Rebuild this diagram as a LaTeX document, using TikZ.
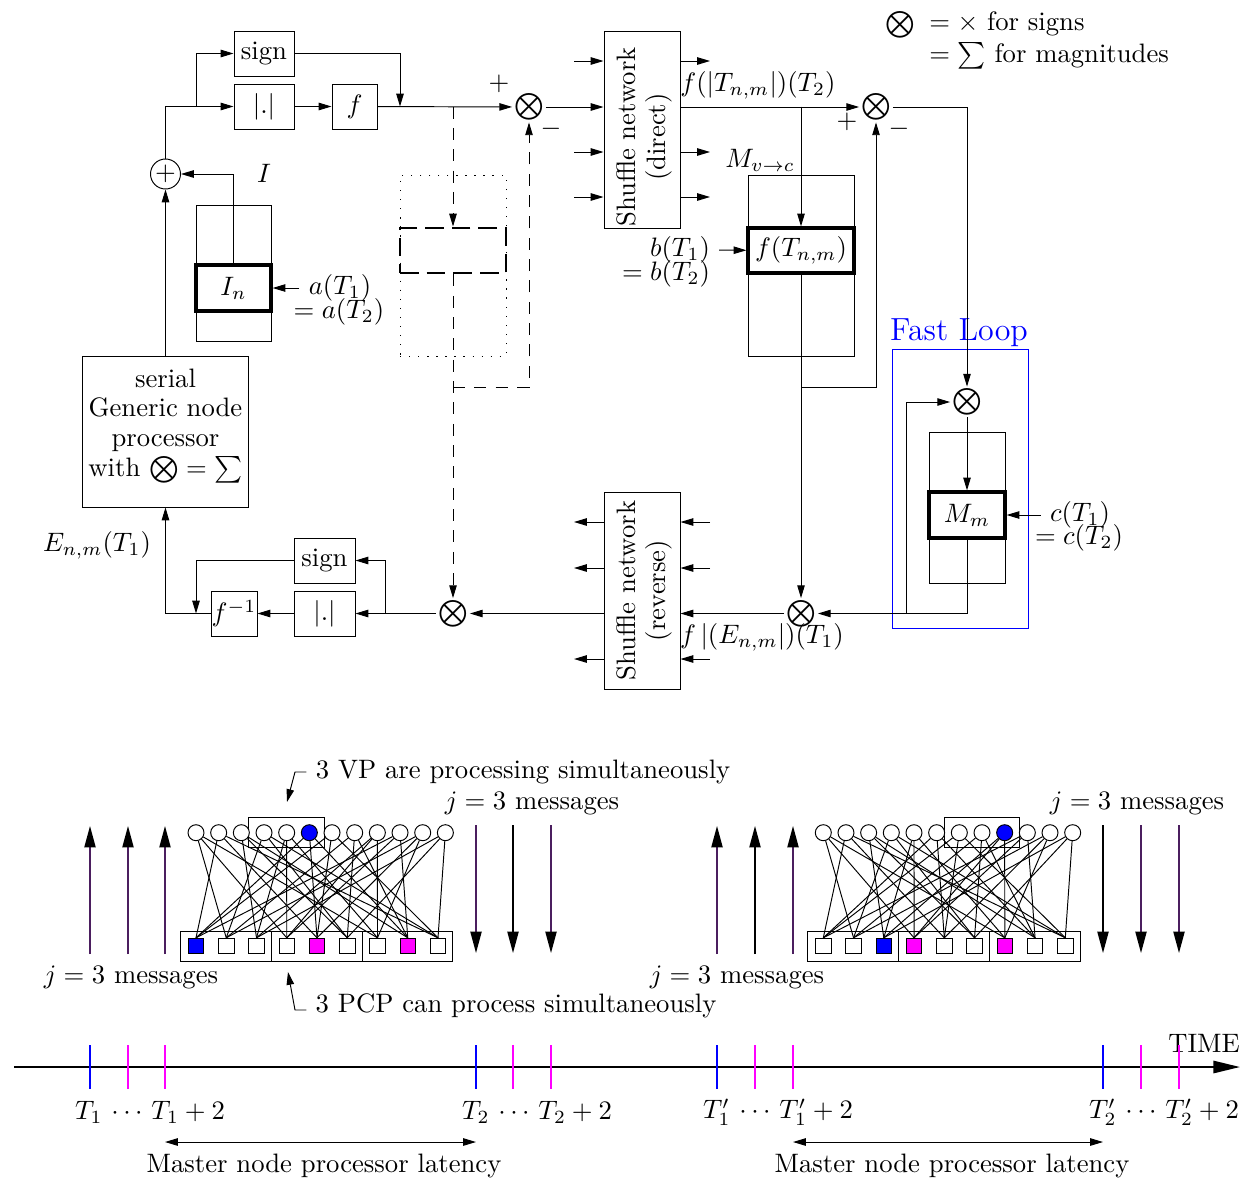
\documentclass[tikz,border=0pt]{standalone}
\usetikzlibrary{arrows.meta,calc}
\usepackage{amsmath}
\definecolor{arrowpurple}{RGB}{75,30,95}
\definecolor{fullmagenta}{RGB}{255,0,255}
\tikzset{
    wh/.style 2 args={minimum width=#1*0.375pt, minimum height=#2*0.375pt, inner sep=0pt},
    arr/.style={-{Triangle[length=4.8pt,width=2.8pt]}},
    bigarr/.style={line width=0.5pt, -{Triangle[length=8pt,width=4.2pt,black]}},
    blk/.style={draw},
    thickblk/.style={draw, line width=1.2pt},
    mult/.style={inner sep=0.6pt},
    twolines/.style={align=center, font=\fontsize{10}{11.2}\selectfont},
    longdash/.style={dash pattern=on 4.5pt off 3.5pt},
    tick/.style={line width=0.7pt},
    varnode/.style={draw, circle, minimum size=6pt, inner sep=0pt},
    chknode/.style={draw, minimum size=5.8pt, inner sep=0pt}
}
\begin{document}
\begin{tikzpicture}[x=0.375pt,y=-0.375pt,line width=0.36pt]
    \useasboundingbox (0,0) rectangle (1259,1178);
    % legend
    \node[mult] (legmult) at (900,25) {$\bigotimes$};
    \node[anchor=west] (legsigns) at (920,24) {$=\times$ for signs};
    \node[anchor=west] (legmags) at (920,56) {$=\sum$ for magnitudes};
    % variable node side
    \node[blk, wh={60}{45}] (signtop) at (264,53.5) {sign};
    \node[blk, wh={60}{45}] (abstop) at (264,106.5) {$|.|$};
    \node[blk, wh={45}{45}] (ftop) at (354.5,106.5) {$f$};
    \node[draw, circle, wh={30}{30}] (adder) at (165.5,174) {$+$};
    \node[blk, wh={75}{136}] (inouter) at (233.5,273) {};
    \node[thickblk, wh={75}{46}] (inbox) at (233.5,288) {$I_n$};
    \node (ilabel) at (264,173) {$I$};
    \node (afirst) at (340,288) {$a(T_1)$};
    \node (asecond) at (339,312) {$=a(T_2)$};
    \node[blk, wh={166}{151}] (serial) at (165.5,431.5) {};
    \node[twolines] (serialtext) at (165.5,426) {serial\\Generic node\\processor\\with $\bigotimes=\sum$};
    \node (enmlabel) at (97,545) {$E_{n,m}(T_1)$};
    \coordinate (splittop) at (196,106.5);
    \draw[arr] (serial) -- (adder);
    \draw (adder) |- (splittop);
    \draw[arr] (splittop) -- (abstop);
    \draw[arr] (splittop) |- (signtop);
    \draw[arr] (abstop) -- (ftop);
    \draw[arr] (inbox) |- (adder);
    \draw[arr] (afirst) -- (inbox);
    % first product and dashed path
    \node[mult] (multa) at (529,107) {$\bigotimes$};
    \node (plusa) at (499,84) {$+$};
    \node (minusa) at (551,129) {$-$};
    \coordinate (signdrop) at (400,106.5);
    \coordinate (dashtap) at (453,106.5);
    \coordinate (dashjoin) at (453,387);
    \draw[arr] (ftop) -- (multa);
    \draw[arr] (signtop) -| (signdrop);
    \node[draw, dash pattern=on 0.5pt off 2.9pt, wh={106}{181}] (dotbox) at (453,265.5) {};
    \node[draw, line width=1.1pt, dash pattern=on 7pt off 3pt, wh={106}{45}] (dashbox) at (453,250.5) {};
    \draw[arr, longdash] (dashtap) -- (dashbox);
    \draw[arr, longdash] (dashjoin) -| (multa);
    % shuffle networks
    \node[blk, wh={76}{197}] (shufd) at (642,129.5) {};
    \node[rotate=90, twolines] (shufdtext) at (644,137) {Shuffle network\\(direct)};
    \node[blk, wh={76}{197}] (shufr) at (642,590.5) {};
    \node[rotate=90, twolines] (shufrtext) at (644,590.5) {Shuffle network\\(reverse)};
    \draw[arr] (multa) -- (multa -| shufd.west);
    \foreach \ya in {61,152,197}{
        \coordinate (din\ya) at (574,\ya);
        \coordinate (dout\ya) at (710,\ya);
        \draw[arr] (din\ya) -- (din\ya -| shufd.west);
        \draw[arr] (dout\ya -| shufd.east) -- (dout\ya);
    }
    \foreach \ya in {522,568,659}{
        \coordinate (rin\ya) at (710,\ya);
        \coordinate (rout\ya) at (574,\ya);
        \draw[arr] (rin\ya) -- (rin\ya -| shufr.east);
        \draw[arr] (rout\ya -| shufr.west) -- (rout\ya);
    }
    % check node memory
    \node[mult] (multb) at (876,107) {$\bigotimes$};
    \node (plusb) at (847,122) {$+$};
    \node (minusb) at (899,129) {$-$};
    \node (tlabel) at (758,85) {$f(|T_{n,m}|)(T_2)$};
    \node (mvclabel) at (760,160) {$M_{v\to c}$};
    \node[blk, wh={106}{181}] (ftouter) at (801,265.5) {};
    \node[thickblk, wh={106}{45}] (ftnm) at (801,250.5) {$f(T_{n,m})$};
    \node (bfirst) at (680,250) {$b(T_1)$};
    \node (bsecond) at (666,274) {$=b(T_2)$};
    \node[mult] (multc) at (801,613.5) {$\bigotimes$};
    \coordinate (ftap) at (801,106.5);
    \coordinate (ftapb) at (801,387);
    \draw[arr] (shufd.east |- multb) -- (multb);
    \draw[arr] (ftap) -- (ftnm);
    \draw[arr] (bfirst) -- (ftnm);
    \draw[arr] (ftnm) -- (multc);
    \draw[arr] (ftapb) -| (multb);
    % fast loop
    \node[draw=blue, wh={136}{279}] (fastbox) at (960,488.5) {};
    \node[blue, font=\large] (fastlabel) at (959,333) {Fast Loop};
    \node[mult] (multd) at (967,402) {$\bigotimes$};
    \node[blk, wh={76}{151}] (mmouter) at (967,507.5) {};
    \node[thickblk, wh={76}{46}] (mmbox) at (967,515) {$M_m$};
    \node (cfirst) at (1080,515) {$c(T_1)$};
    \node (csecond) at (1079,538) {$=c(T_2)$};
    \coordinate (looptap) at (906,613.5);
    \draw[arr] (multb) -| (multd);
    \draw[arr] (multd) -- (mmbox);
    \draw[arr] (mmbox) |- (multc);
    \draw[arr] (looptap) |- (multd);
    \draw[arr] (cfirst) -- (mmbox);
    % way back to the generic node
    \node (elabel) at (762,637) {$f\,|(E_{n,m}|)(T_1)$};
    \node[mult] (multe) at (453,613.5) {$\bigotimes$};
    \node[blk, wh={61}{45}] (signbot) at (324.5,560.5) {sign};
    \node[blk, wh={61}{45}] (absbot) at (324.5,613.5) {$|.|$};
    \node[blk, wh={46}{45}] (finv) at (234,613.5) {$f^{-1}$};
    \coordinate (botsplit) at (385,613.5);
    \coordinate (signin) at (196,613.5);
    \draw[arr] (multc) -- (multc -| shufr.east);
    \draw[arr] (shufr.west |- multe) -- (multe);
    \draw[arr, longdash] (dashbox) -- (multe);
    \draw[arr] (multe) -- (absbot);
    \draw[arr] (botsplit) |- (signbot);
    \draw[arr] (absbot) -- (finv);
    \draw[arr] (signbot) -| (signin);
    \draw[arr] (finv) -| (serial);
    % the two tanner graphs
    \foreach \gr/\gx/\vpx/\vc/\sb/\sma/\smb in {a/0/286.5/6/1/5/8, b/627.3/354.7/9/3/4/7}{
        \begin{scope}[shift={(\gx,0)}]
            \node[blk, wh={75.6}{30.4}] (\gr vp) at (\vpx,832.5) {};
            \foreach \pc in {0,1,2}
                \node[blk, wh={90.7}{30}] (\gr pcp\pc) at ({226+\pc*90.7},946) {};
            \foreach \i in {1,...,12}{
                \def\colr{white}
                \ifnum\i=\vc \def\colr{blue}\fi
                \node[varnode, fill=\colr] (\gr c\i) at ({196+(\i-1)*22.67},832.7) {};
            }
            \foreach \j in {1,...,9}{
                \def\colr{white}
                \ifnum\j=\sb \def\colr{blue}\fi
                \ifnum\j=\sma \def\colr{fullmagenta}\fi
                \ifnum\j=\smb \def\colr{fullmagenta}\fi
                \node[chknode, fill=\colr] (\gr s\j) at ({196+(\j-1)*30.25},946) {};
            }
            \foreach \i/\ja/\jb/\jc in {1/2/4/7, 2/1/5/9, 3/3/6/8, 4/2/6/9, 5/3/4/7, 6/1/5/8, 7/1/5/9, 8/2/6/8, 9/3/4/7, 10/1/4/8, 11/2/5/7, 12/3/6/9}{
                \draw (\gr c\i) -- (\gr s\ja.north);
                \draw (\gr c\i) -- (\gr s\jb.north);
                \draw (\gr c\i) -- (\gr s\jc.north);
            }
        \end{scope}
    }
    \node (vplabel) at (523,772) {3 VP are processing simultaneously};
    \node (pcplabel) at (516,1006) {3 PCP can process simultaneously};
    \coordinate (vpbend) at (295,772);
    \coordinate (vptip) at (287,802);
    \coordinate (pcpbend) at (295,1010);
    \coordinate (pcptip) at (288,972);
    \draw[arr] (vplabel.west) -- (vpbend) -- (vptip);
    \draw[arr] (pcplabel.west |- pcpbend) -- (pcpbend) -- (pcptip);
    \node (jmsga) at (532,803) {$j=3$ messages};
    \node (jmsgb) at (1137,803) {$j=3$ messages};
    \node (jmsgc) at (131,977) {$j=3$ messages};
    \node (jmsgd) at (737,977) {$j=3$ messages};
    \foreach \xa/\cola in {90/arrowpurple,128/arrowpurple,165/arrowpurple,717/arrowpurple,755/black,793/arrowpurple}{
        \coordinate (upb\xa) at (\xa,954);
        \coordinate (upt\xa) at (\xa,826);
        \draw[bigarr, \cola] (upb\xa) -- (upt\xa);
    }
    \foreach \xa/\cola in {476/arrowpurple,513/black,551/arrowpurple,1103/black,1141/arrowpurple,1179/arrowpurple}{
        \coordinate (dnt\xa) at (\xa,825);
        \coordinate (dnb\xa) at (\xa,953);
        \draw[bigarr, \cola] (dnt\xa) -- (dnb\xa);
    }
    % time axis
    \coordinate (timestart) at (14,1067);
    \coordinate (timeend) at (1240,1067);
    \draw[line width=0.8pt, -{Triangle[length=10pt,width=4.6pt]}] (timestart) -- (timeend);
    \node (timelabel) at (1204,1043) {TIME};
    \foreach \xa/\cola in {90/blue,128/fullmagenta,165/fullmagenta,476/blue,513/fullmagenta,551/fullmagenta,717/blue,755/fullmagenta,793/fullmagenta,1103/blue,1141/fullmagenta,1179/fullmagenta}{
        \coordinate (tickt\xa) at (\xa,1045);
        \coordinate (tickb\xa) at (\xa,1089);
        \draw[tick, \cola] (tickt\xa) -- (tickb\xa);
    }
    \node (tlaba) at (150,1112) {$T_1\,\cdots\,T_1+2$};
    \node (tlabb) at (537,1112) {$T_2\,\cdots\,T_2+2$};
    \node (tlabc) at (778,1112) {$T'_1\,\cdots\,T'_1+2$};
    \node (tlabd) at (1164,1112) {$T'_2\,\cdots\,T'_2+2$};
    \coordinate (lata) at (165,1142);
    \coordinate (latb) at (476,1142);
    \coordinate (latc) at (793,1142);
    \coordinate (latd) at (1103,1142);
    \draw[{Triangle[length=4.8pt,width=2.8pt]}-{Triangle[length=4.8pt,width=2.8pt]}] (lata) -- (latb);
    \draw[{Triangle[length=4.8pt,width=2.8pt]}-{Triangle[length=4.8pt,width=2.8pt]}] (latc) -- (latd);
    \node (latlaba) at (324,1166) {Master node processor latency};
    \node (latlabb) at (952,1166) {Master node processor latency};
\end{tikzpicture}
\end{document}
